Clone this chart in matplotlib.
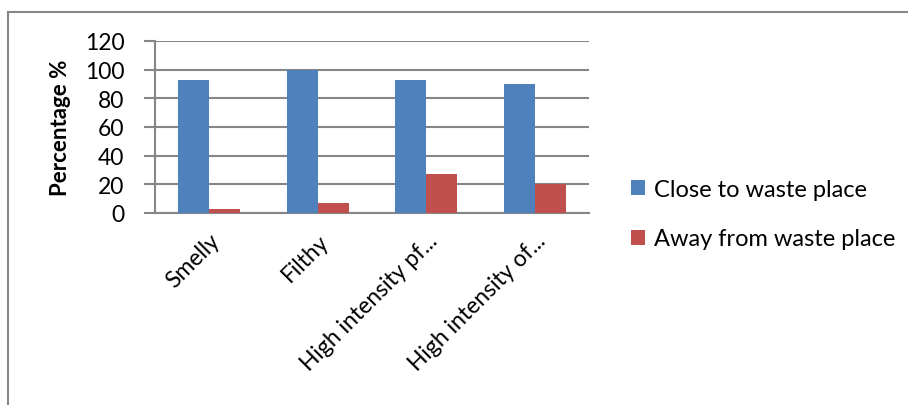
import numpy as np
import matplotlib.pyplot as plt
from matplotlib.lines import Line2D

plt.rcParams['font.family'] = ['Lato', 'DejaVu Sans']

categories = ['Smelly', 'Filthy', 'High intensity pf...', 'High intensity of...']
close = [93, 100, 93, 90]
away = [3, 7, 27, 20]

blue = '#4F81BD'
red = '#C0504D'
grid_col = '#868686'

fig = plt.figure(figsize=(9.08, 4.06), dpi=100)
ax = fig.add_axes([155/908, 1-214/406, (589-155)/908, (214-42)/406])

x = np.arange(len(categories))
w = 0.286
ax.bar(x - w/2, close, w, color=blue, label='Close to waste place', zorder=3)
ax.bar(x + w/2, away, w, color=red, label='Away from waste place', zorder=3)

ax.set_xlim(-0.5, len(categories) - 0.5)
ax.set_ylim(0, 120)
ax.set_yticks(range(0, 121, 20))
ax.yaxis.grid(True, color=grid_col, linewidth=1.5, zorder=0)
ax.tick_params(axis='y', length=8, width=1.5, color=grid_col, labelsize=16.5, pad=14)
ax.tick_params(axis='x', length=0, labelsize=16.5, pad=12)
ax.set_xticks(x)
ax.set_xticklabels(categories, rotation=45, ha='right', rotation_mode='anchor')
for s in ['top', 'right']:
    ax.spines[s].set_visible(False)
for s in ['left', 'bottom']:
    ax.spines[s].set_color(grid_col)
    ax.spines[s].set_linewidth(1.5)
ax.set_ylabel('Percentage %', fontsize=16, fontweight='bold', labelpad=10)

ax.legend(loc='center left', bbox_to_anchor=(1.047, -0.007), frameon=False,
          fontsize=17, handlelength=0.6, handleheight=0.6, handletextpad=0.4,
          labelspacing=1.2)

# outer chart border (only top and left visible)
fig.add_artist(Line2D([8/908, 8/908], [0, 1-13/406], transform=fig.transFigure,
                      color=grid_col, linewidth=1.5))
fig.add_artist(Line2D([8/908, 1], [1-13/406, 1-13/406], transform=fig.transFigure,
                      color=grid_col, linewidth=1.5))

plt.savefig('out.png', dpi=100)
